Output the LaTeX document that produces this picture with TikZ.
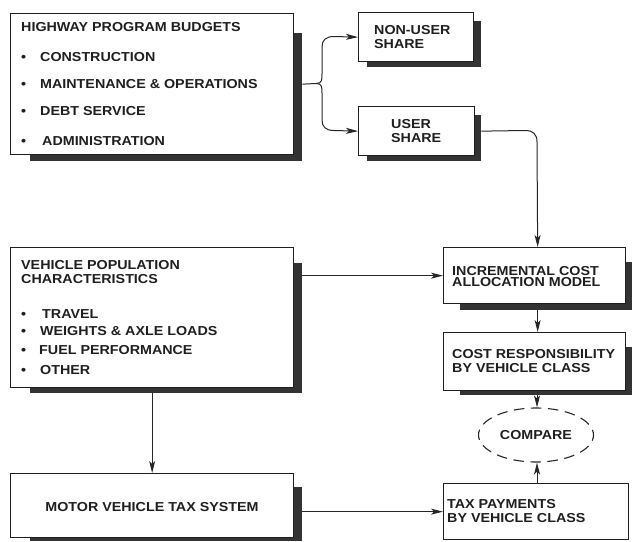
\documentclass[tikz,border=0pt]{standalone}
\usepackage{fontspec}
\setmainfont{Liberation Sans}[FakeStretch=1.1]
\usetikzlibrary{arrows.meta,shapes.geometric}
\begin{document}
\begin{tikzpicture}[x=1pt,y=-1pt,
  box/.style={draw=black!88, line width=1.3pt, fill=white, inner sep=0pt, anchor=north west},
  shade/.style={fill=black!80, inner sep=0pt, anchor=north west},
  txt/.style={inner sep=0pt, anchor=west, align=left, text=black!88, font=\bfseries\fontsize{13}{14}\selectfont},
  con/.style={line width=1pt, draw=black!85},
  arr/.style={con, -{Stealth[length=12pt,width=6pt,inset=3pt]}},
  bul/.style={txt}]
\useasboundingbox (0,0) rectangle (632,541);
% shadows
\node[shade, minimum width=272pt, minimum height=128pt] (hws) at (30,33) {};
\node[shade, minimum width=114pt, minimum height=46pt] (nus) at (367,21) {};
\node[shade, minimum width=114pt, minimum height=46pt] (uss) at (367,115) {};
\node[shade, minimum width=272pt, minimum height=130pt] (vehs) at (30,263) {};
\node[shade, minimum width=172pt, minimum height=48pt] (incs) at (460,262) {};
\node[shade, minimum width=172pt, minimum height=48pt] (costs) at (460,347) {};
\node[shade, minimum width=272pt, minimum height=54pt] (mots) at (30,487) {};
% boxes
\node[box, minimum width=283pt, minimum height=141pt] (hw) at (10,13) {};
\node[box, minimum width=115pt, minimum height=49pt] (nu) at (358,12) {};
\node[box, minimum width=116pt, minimum height=49pt] (us) at (358,106) {};
\node[box, minimum width=283pt, minimum height=140pt] (veh) at (10,247) {};
\node[box, minimum width=182pt, minimum height=56pt] (inc) at (443,247) {};
\node[box, minimum width=182pt, minimum height=58pt] (cost) at (443,332) {};
\node[box, minimum width=283pt, minimum height=64pt] (mot) at (10,473) {};
\node[box, minimum width=185pt, minimum height=56pt] (tax) at (443,483) {};
\node[ellipse, draw=black!85, line width=1.1pt, minimum width=115pt, minimum height=54pt, inner sep=0pt,
      dash pattern=on 10.5pt off 6.6pt, dash phase=5.25pt] (cmp) at (536,435) {};
% texts
\node[txt] (t1) at (21,27) {HIGHWAY PROGRAM BUDGETS};
\node[bul] (t1a) at (21,57) {\makebox[19pt][l]{•}CONSTRUCTION};
\node[bul] (t1b) at (21,84) {\makebox[19pt][l]{•}MAINTENANCE \& OPERATIONS};
\node[bul] (t1c) at (21,111.5) {\makebox[19pt][l]{•}DEBT SERVICE};
\node[bul] (t1d) at (21,141) {\makebox[21pt][l]{•}ADMINISTRATION};
\node[txt] (t2) at (374,37.5) {NON-USER\\SHARE};
\node[txt] (t3) at (391,131) {USER\\SHARE};
\node[txt] (t4) at (21,272.5) {VEHICLE POPULATION\\CHARACTERISTICS};
\node[bul] (t4a) at (21,314) {\makebox[21pt][l]{•}TRAVEL};
\node[bul] (t4b) at (21,331) {\makebox[19pt][l]{•}WEIGHTS \& AXLE LOADS};
\node[bul] (t4c) at (21,350) {\makebox[18pt][l]{•}FUEL PERFORMANCE};
\node[bul] (t4d) at (21,370) {\makebox[19pt][l]{•}OTHER};
\node[txt, font=\bfseries\fontsize{13}{11.5}\selectfont] (t5) at (452,276.75) {INCREMENTAL COST\\ALLOCATION MODEL};
\node[txt, font=\bfseries\fontsize{13}{13.5}\selectfont] (t6) at (452,361.25) {COST RESPONSIBILITY\\BY VEHICLE CLASS};
\node[txt] (t7) at (447,511) {TAX PAYMENTS\\BY VEHICLE CLASS};
\node[txt, anchor=center] (t8) at (152,507) {MOTOR VEHICLE TAX SYSTEM};
\node[txt, anchor=center] (t9) at (536,435) {COMPARE};
% connectors
\coordinate (split) at (316,83.5);
\draw[con] (hw.east -| hws.east) -- (split);
\draw[arr] (split) .. controls (322,83.5) and (322,80) .. (322,74) -- (322,47)
      .. controls (322,40) and (326,36.5) .. (334,36.5) -- (nu.west);
\draw[arr] (split) .. controls (322,83.5) and (322,87) .. (322,93) -- (322,120)
      .. controls (322,127) and (326,130.5) .. (334,130.5) -- (us.west);
\draw[arr] (us.east -| uss.east) -- (525,130.5) .. controls (533,130.5) and (537,134) .. (537,142)
      -- ([xshift=3pt]inc.north);
\draw[arr] ([xshift=3pt]inc.north |- incs.south) -- ([xshift=3pt]cost.north);
\draw[arr] ([xshift=1pt]cmp.north |- costs.south) -- ([xshift=1pt]cmp.north);
\draw[arr] ([xshift=1pt]cmp.south |- tax.north) -- ([xshift=1pt]cmp.south);
\draw[arr] (inc.west -| vehs.east) -- (inc.west);
\draw[arr] (veh.south |- vehs.south) -- (mot.north);
\draw[arr] (tax.west -| mots.east) -- (tax.west);
\end{tikzpicture}
\end{document}
